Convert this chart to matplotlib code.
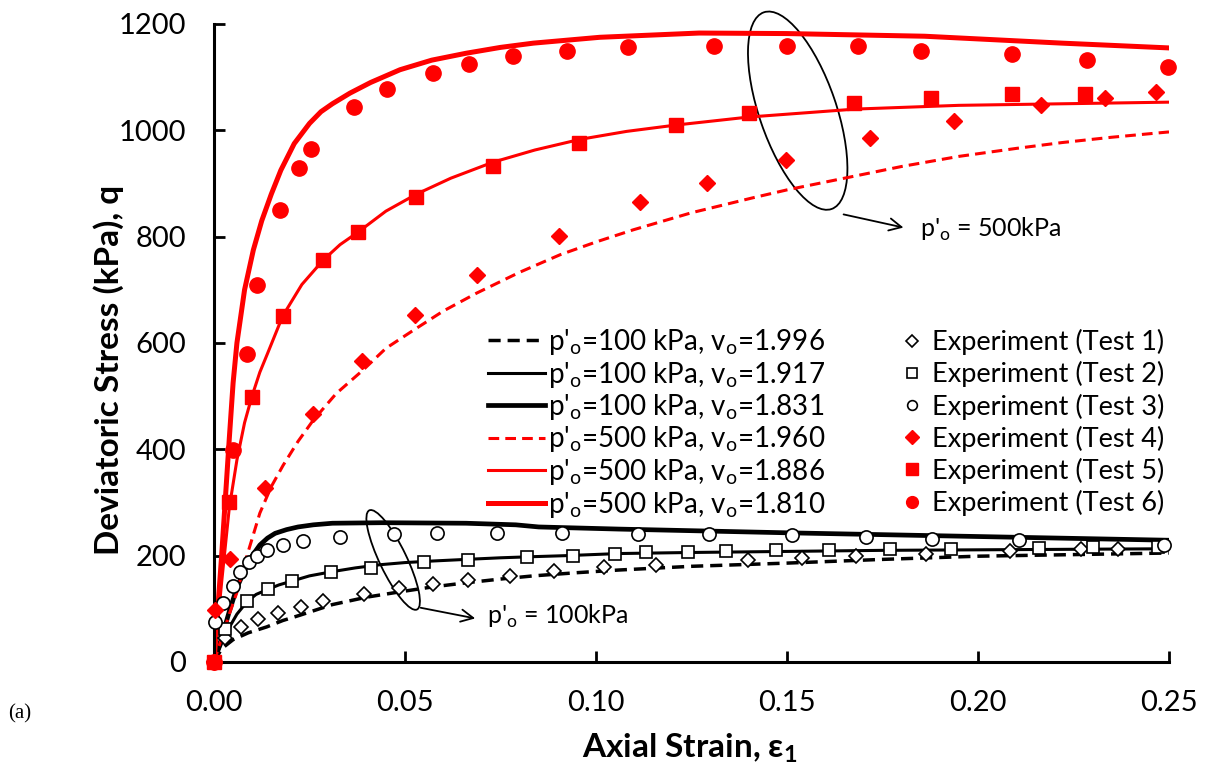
import matplotlib
matplotlib.use('Agg')
import matplotlib.pyplot as plt
from matplotlib.patches import Ellipse
from matplotlib.transforms import ScaledTranslation
from matplotlib.lines import Line2D

# fonts
plt.rcParams['font.family'] = ['Lato', 'DejaVu Sans']
plt.rcParams['mathtext.fontset'] = 'custom'
plt.rcParams['mathtext.rm'] = 'Lato'
plt.rcParams['mathtext.bf'] = 'Lato:bold'

# model curves (axial strain, deviatoric stress kPa)
m1_x = [0, 0.002, 0.005, 0.009, 0.0138, 0.018, 0.0225, 0.031, 0.04, 0.0487, 0.057, 0.066, 0.075, 0.0836,
        0.095, 0.106, 0.125, 0.15, 0.175, 0.2, 0.225, 0.25]
m1_q = [0, 25, 42, 55, 66, 78, 88, 108, 122, 132, 141, 149, 156, 162, 168, 173, 180, 186, 193, 199, 202, 205]
m2_x = [0, 0.002, 0.004, 0.006, 0.0086, 0.011, 0.0142, 0.017, 0.0203, 0.025, 0.031, 0.037, 0.0435, 0.05,
        0.0574, 0.066, 0.075, 0.083, 0.092, 0.106, 0.125, 0.15, 0.175, 0.2, 0.225, 0.25]
m2_q = [0, 35, 65, 90, 113, 127, 137, 145, 152, 162, 170, 177, 183, 187, 190, 193, 196, 198, 200, 204, 206,
        208, 210, 211, 212, 213]
m3_x = [0, 0.002, 0.004, 0.006, 0.008, 0.010, 0.012, 0.014, 0.016, 0.019, 0.022, 0.026, 0.031, 0.044, 0.066,
        0.079, 0.085, 0.106, 0.15, 0.2, 0.25]
m3_q = [0, 45, 95, 140, 172, 200, 220, 233, 242, 249, 254, 258, 261, 262, 261, 258, 254, 250, 243, 236, 229]
m4_x = [0, 0.002, 0.004, 0.0059, 0.008, 0.012, 0.015, 0.0181, 0.022, 0.026, 0.032, 0.039, 0.045, 0.0522, 0.06,
        0.0688, 0.08, 0.0906, 0.1, 0.1098, 0.125, 0.141, 0.15, 0.1664, 0.18, 0.195, 0.21, 0.222, 0.235, 0.25]
m4_q = [0, 45, 90, 129, 185, 280, 330, 370, 415, 455, 505, 549, 590, 624, 660, 694, 733, 766, 790, 813, 845,
        873, 888, 912, 932, 951, 966, 977, 987, 997]
m5_x = [0, 0.002, 0.004, 0.006, 0.008, 0.0099, 0.012, 0.014, 0.018, 0.023, 0.0286, 0.033, 0.0378, 0.045, 0.053,
        0.062, 0.073, 0.084, 0.0958, 0.108, 0.121, 0.14, 0.168, 0.195, 0.25]
m5_q = [0, 150, 290, 380, 450, 499, 545, 580, 651, 710, 756, 785, 809, 848, 880, 910, 940, 963, 983, 998,
        1010, 1025, 1040, 1047, 1053]
m6_x = [0, 0.002, 0.003, 0.004, 0.005, 0.006, 0.008, 0.0103, 0.0125, 0.015, 0.0175, 0.021, 0.025, 0.028, 0.031,
        0.0356, 0.041, 0.0487, 0.057, 0.066, 0.075, 0.0836, 0.101, 0.127, 0.15, 0.186, 0.222, 0.25]
m6_q = [0, 200, 310, 420, 525, 600, 700, 775, 830, 880, 925, 975, 1013, 1035, 1050, 1070, 1090, 1114, 1132,
        1145, 1156, 1164, 1175, 1183, 1182, 1177, 1164, 1155]

# experiments
t1_x = [0, 0.0029, 0.007, 0.0116, 0.0167, 0.0228, 0.0285, 0.0393, 0.0484, 0.0572, 0.0664, 0.0775, 0.0891, 0.102,
        0.1156, 0.1398, 0.1538, 0.168, 0.1863, 0.2085, 0.227, 0.2366]
t1_q = [0, 45, 65, 80, 92, 103, 115, 128, 139, 146, 154, 162, 171, 179, 183, 191, 196, 199, 204, 209, 212, 213]
t2_x = [0, 0.0029, 0.0086, 0.0142, 0.0203, 0.0306, 0.041, 0.055, 0.0666, 0.0819, 0.094, 0.105, 0.113, 0.124,
        0.134, 0.147, 0.161, 0.177, 0.193, 0.216, 0.230, 0.247]
t2_q = [0, 63, 115, 137, 153, 170, 177, 188, 192, 197, 199, 204, 206, 207, 208, 210, 211, 212, 213, 215, 216, 217]
t3_x = [0, 0.0003, 0.0024, 0.0049, 0.0068, 0.0092, 0.0112, 0.0138, 0.018, 0.0232, 0.033, 0.0472, 0.0583, 0.0742,
        0.091, 0.111, 0.1296, 0.1513, 0.1706, 0.188, 0.2107, 0.2487]
t3_q = [0, 76, 111, 143, 170, 188, 200, 210, 221, 228, 235, 241, 242, 242, 242, 241, 241, 238, 235, 232, 229, 220]
t4_x = [0, 0.0003, 0.0042, 0.0134, 0.026, 0.0388, 0.0526, 0.0689, 0.0903, 0.1115, 0.129, 0.1497, 0.1717, 0.1938,
        0.2164, 0.2333, 0.2466]
t4_q = [0, 97, 193, 327, 466, 567, 653, 728, 801, 866, 900, 945, 985, 1018, 1047, 1060, 1072]
t5_x = [0, 0.004, 0.0099, 0.018, 0.0286, 0.0378, 0.0528, 0.073, 0.0956, 0.121, 0.14, 0.1675, 0.1876, 0.209, 0.2279]
t5_q = [0, 301, 499, 651, 756, 809, 874, 932, 976, 1010, 1032, 1052, 1061, 1069, 1069]
t6_x = [0, 0.0049, 0.0086, 0.0113, 0.0173, 0.0223, 0.0253, 0.0367, 0.0453, 0.0574, 0.0668, 0.0784, 0.0925, 0.1085,
        0.1308, 0.150, 0.1686, 0.1851, 0.209, 0.2285, 0.2497]
t6_q = [0, 399, 579, 709, 850, 930, 965, 1043, 1078, 1107, 1125, 1139, 1149, 1156, 1159, 1159, 1158, 1150, 1144, 1132, 1120]

line_labels = ["p'$_\\mathregular{o}$=100 kPa, v$_\\mathregular{o}$=1.996",
               "p'$_\\mathregular{o}$=100 kPa, v$_\\mathregular{o}$=1.917",
               "p'$_\\mathregular{o}$=100 kPa, v$_\\mathregular{o}$=1.831",
               "p'$_\\mathregular{o}$=500 kPa, v$_\\mathregular{o}$=1.960",
               "p'$_\\mathregular{o}$=500 kPa, v$_\\mathregular{o}$=1.886",
               "p'$_\\mathregular{o}$=500 kPa, v$_\\mathregular{o}$=1.810"]
test_labels = ['Experiment (Test %d)' % i for i in range(1, 7)]

red = '#ff0000'
fig = plt.figure(figsize=(12.05, 7.65), dpi=100)
ax = fig.add_axes([214 / 1205, 103 / 765, 955 / 1205, 638 / 765])

# model lines
l1, = ax.plot(m1_x, m1_q, color='black', lw=2.5, dashes=(3.5, 2))
l2, = ax.plot(m2_x, m2_q, color='black', lw=2.2)
l3, = ax.plot(m3_x, m3_q, color='black', lw=3.4)
l4, = ax.plot(m4_x, m4_q, color=red, lw=2.2, dashes=(3.5, 2))
l5, = ax.plot(m5_x, m5_q, color=red, lw=2.2)
l6, = ax.plot(m6_x, m6_q, color=red, lw=3.6)

# experiment markers
ax.plot(t1_x, t1_q, 'D', ms=6.8, mfc='white', mec='black', mew=1.2, ls='none', zorder=3, clip_on=False)
ax.plot(t2_x, t2_q, 's', ms=8, mfc='white', mec='black', mew=1.2, ls='none', zorder=3, clip_on=False)
ax.plot(t3_x, t3_q, 'o', ms=9.5, mfc='white', mec='black', mew=1.2, ls='none', zorder=3, clip_on=False)
ax.plot(t4_x, t4_q, 'D', ms=8.5, color=red, ls='none', zorder=3, clip_on=False)
ax.plot(t5_x, t5_q, 's', ms=10, color=red, ls='none', zorder=3, clip_on=False)
ax.plot(t6_x, t6_q, 'o', ms=11, color=red, ls='none', zorder=3, clip_on=False)

ax.set_xlim(0, 0.25)
ax.set_ylim(0, 1200)
ax.set_xticks([0, 0.05, 0.10, 0.15, 0.20, 0.25])
ax.set_xticklabels(['0.00', '0.05', '0.10', '0.15', '0.20', '0.25'])
ax.set_yticks(range(0, 1201, 200))
ax.tick_params(direction='in', length=8, width=2, labelsize=21)
ax.tick_params(axis='x', pad=20)
ax.tick_params(axis='y', pad=20)
for s in ['top', 'right']:
    ax.spines[s].set_visible(False)
for s in ['left', 'bottom']:
    ax.spines[s].set_linewidth(2.2)
ax.set_xlabel('Axial Strain, ε$_\\mathbf{1}$', fontsize=24, fontweight='bold')
ax.set_ylabel('Deviatoric Stress (kPa), q', fontsize=24, fontweight='bold')
ax.xaxis.set_label_coords(0.498, -0.108)
ax.yaxis.set_label_coords(-0.094, 0.458)

# legends
leg1 = ax.legend([l1, l2, l3, l4, l5, l6], line_labels, loc='upper left',
                 bbox_to_anchor=(488 / 1205, 1 - 327 / 765), bbox_transform=fig.transFigure,
                 frameon=False, fontsize=20, handlelength=2.05, handletextpad=0.11,
                 labelspacing=0.09, borderpad=0, borderaxespad=0)
ax.add_artist(leg1)
mk = [Line2D([], [], marker='D', ms=6, mfc='white', mec='black', mew=1.2, ls='none'),
      Line2D([], [], marker='s', ms=6.5, mfc='white', mec='black', mew=1.2, ls='none'),
      Line2D([], [], marker='o', ms=7, mfc='white', mec='black', mew=1.2, ls='none'),
      Line2D([], [], marker='D', ms=7, color=red, ls='none'),
      Line2D([], [], marker='s', ms=8, color=red, ls='none'),
      Line2D([], [], marker='o', ms=8.5, color=red, ls='none')]
ax.legend(mk, test_labels, loc='upper left',
          bbox_to_anchor=(898 / 1205, 1 - 329 / 765), bbox_transform=fig.transFigure,
          frameon=False, fontsize=19.5, handlelength=1.0, handletextpad=0.26,
          labelspacing=0.225, borderpad=0, borderaxespad=0)

# ellipse annotations
e1 = Ellipse((0, 0), 0.77, 2.08, angle=19, fill=False, lw=1.3, color='black', clip_on=False,
             transform=fig.dpi_scale_trans + ScaledTranslation(0.1528, 1037, ax.transData))
e2 = Ellipse((0, 0), 0.27, 1.10, angle=25.7, fill=False, lw=1.3, color='black', clip_on=False,
             transform=fig.dpi_scale_trans + ScaledTranslation(0.0469, 192, ax.transData))
ax.add_patch(e1)
ax.add_patch(e2)
ax.annotate('', xy=(0.1812, 816), xytext=(0.1641, 843),
            arrowprops=dict(arrowstyle='->', lw=1.3, color='black', mutation_scale=22))
ax.annotate('', xy=(0.0691, 81), xytext=(0.0534, 103),
            arrowprops=dict(arrowstyle='->', lw=1.3, color='black', mutation_scale=22))
ax.text(0.1848, 814, "p$'_\\mathregular{o}$ = 500kPa", fontsize=18, va='center', ha='left')
ax.text(0.0715, 85, "p$'_\\mathregular{o}$ = 100kPa", fontsize=18, va='center', ha='left')

fig.text(8 / 1205, 1 - 714 / 765, '(a)', fontsize=15, family='Liberation Serif', va='center')

fig.savefig('out.png', dpi=100)
